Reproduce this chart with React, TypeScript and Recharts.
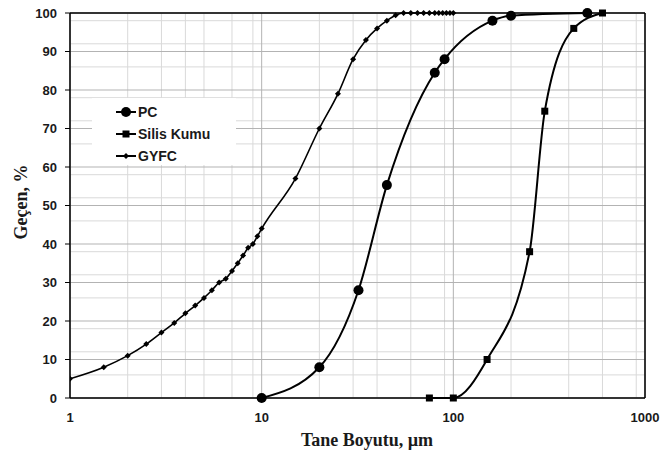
import React from 'react';
import {
  LineChart,
  Line,
  XAxis,
  YAxis,
  CartesianGrid,
  ReferenceLine,
  Legend,
} from 'recharts';

// Tane boyutu (µm) ve geçen yüzdesi
const pcSize = [10, 20, 32, 45, 80, 90, 160, 200, 500];
const pcPass = [0, 8, 28, 55.3, 84.5, 88, 98, 99.3, 100];

const silisSize = [75, 100, 150, 250, 300, 425, 600];
const silisPass = [0, 0, 10, 38, 74.5, 96, 100];

const gyfcSize = [
  1, 1.5, 2, 2.5, 3, 3.5, 4, 4.5, 5, 5.5, 6, 6.5, 7, 7.5, 8, 8.5, 9, 9.5, 10,
  15, 20, 25, 30, 35, 40, 45, 50, 55, 60, 65, 70, 75, 80, 84, 88, 92, 96, 100,
];
const gyfcPass = [
  5, 8, 11, 14, 17, 19.5, 22, 24, 26, 28, 30, 31, 33, 35, 37, 39, 40, 42, 44,
  57, 70, 79, 88, 93, 96, 98, 99.4, 100, 100, 100, 100, 100, 100, 100, 100, 100, 100, 100,
];

const xTicks = [1, 10, 100, 1000];
const yTicks = [0, 10, 20, 30, 40, 50, 60, 70, 80, 90, 100];
const xMinor = [2, 3, 4, 5, 6, 7, 8, 9, 20, 30, 40, 50, 60, 70, 80, 90, 200, 300, 400, 500, 600, 700, 800, 900];
const yMinor = [
  2, 4, 6, 8, 12, 14, 16, 18, 22, 24, 26, 28, 32, 34, 36, 38, 42, 44, 46, 48,
  52, 54, 56, 58, 62, 64, 66, 68, 72, 74, 76, 78, 82, 84, 86, 88, 92, 94, 96, 98,
];

const toPoints = (xs: number[], ys: number[]) => xs.map((x, i) => ({ x, y: ys[i] }));
const pcData = toPoints(pcSize, pcPass);
const silisData = toPoints(silisSize, silisPass);
const gyfcData = toPoints(gyfcSize, gyfcPass);

const tickFont = { fontFamily: 'Arial, "Liberation Sans", sans-serif', fontSize: 13, fontWeight: 700, fill: '#1a1a1a' };
const titleFont = { fontFamily: '"Times New Roman", "Liberation Serif", serif', fontSize: 18, fontWeight: 700, fill: '#1a1a1a' };

const CircleDot = (props: any) => {
  const { cx, cy, index } = props;
  if (cx == null || cy == null) return null;
  return <circle key={`c${index}`} cx={cx} cy={cy} r={5} fill="#000" />;
};

const SquareDot = (props: any) => {
  const { cx, cy, index } = props;
  if (cx == null || cy == null) return null;
  return <rect key={`s${index}`} x={cx - 3.5} y={cy - 3.5} width={7} height={7} fill="#000" />;
};

const DiamondDot = (props: any) => {
  const { cx, cy, index } = props;
  if (cx == null || cy == null) return null;
  return <path key={`d${index}`} d={`M${cx},${cy - 3}L${cx + 3},${cy}L${cx},${cy + 3}L${cx - 3},${cy}Z`} fill="#000" />;
};

const legendItems = [
  { name: 'PC', marker: 'circle' },
  { name: 'Silis Kumu', marker: 'square' },
  { name: 'GYFC', marker: 'diamond' },
];

const LegendBox = () => (
  <div style={{ background: '#fff', width: 144, height: 67, paddingTop: 3, boxSizing: 'border-box' }}>
    {legendItems.map((item) => (
      <div key={item.name} style={{ display: 'flex', alignItems: 'center', height: 22 }}>
        <svg width={45} height={14} style={{ flex: 'none' }}>
          <line x1={24} y1={7} x2={44} y2={7} stroke="#000" strokeWidth={2} />
          {item.marker === 'circle' && <circle cx={34} cy={7} r={5} fill="#000" />}
          {item.marker === 'square' && <rect x={30.5} y={3.5} width={7} height={7} fill="#000" />}
          {item.marker === 'diamond' && <path d="M34,4L37,7L34,10L31,7Z" fill="#000" />}
        </svg>
        <span style={{ fontFamily: 'Arial, "Liberation Sans", sans-serif', fontSize: 14, fontWeight: 700, color: '#1a1a1a', marginLeft: 1 }}>
          {item.name}
        </span>
      </div>
    ))}
  </div>
);

export default function App() {
  return (
    <div style={{ position: 'absolute', left: 0, top: 0, background: '#fff' }}>
      <LineChart width={665} height={459} margin={{ top: 13, right: 20, left: 0, bottom: 0 }}>
        {/* minor grid drawn from hidden axes */}
        <CartesianGrid stroke="#d9d9d9" xAxisId="minor" yAxisId="minor" />
        <CartesianGrid stroke="#b3b3b3" />
        <XAxis
          xAxisId="minor"
          dataKey="x"
          type="number"
          scale="log"
          domain={[1, 1000]}
          allowDataOverflow
          ticks={xMinor}
          hide
        />
        <YAxis yAxisId="minor" type="number" domain={[0, 100]} ticks={yMinor} allowDataOverflow hide />
        <XAxis
          dataKey="x"
          type="number"
          scale="log"
          domain={[1, 1000]}
          allowDataOverflow
          ticks={xTicks}
          height={61}
          axisLine={{ stroke: '#000', strokeWidth: 1.5 }}
          tickLine={false}
          tickMargin={9}
          tick={tickFont}
          label={{
            content: () => (
              <text x={367} y={446} textAnchor="middle" style={titleFont}>
                Tane Boyutu, µm
              </text>
            ),
          }}
        />
        <YAxis
          type="number"
          domain={[0, 100]}
          ticks={yTicks}
          width={70}
          axisLine={{ stroke: '#000', strokeWidth: 1.5 }}
          tickLine={{ stroke: '#000' }}
          tickSize={5}
          tickMargin={8}
          tick={tickFont}
          label={{
            content: () => (
              <text x={27} y={202} transform="rotate(-90 27 202)" textAnchor="middle" style={titleFont}>
                Geçen, %
              </text>
            ),
          }}
        />
        <ReferenceLine y={100} stroke="#000" strokeWidth={1.5} />
        <ReferenceLine x={1000} stroke="#000" strokeWidth={1.5} />
        <Legend
          layout="vertical"
          align="center"
          verticalAlign="middle"
          content={() => <LegendBox />}
          wrapperStyle={{ left: 92, top: 98, width: 144, height: 67 }}
        />
        <Line
          data={pcData}
          dataKey="y"
          name="PC"
          type="monotone"
          stroke="#000"
          strokeWidth={2}
          dot={CircleDot}
          activeDot={false}
          isAnimationActive={false}
        />
        <Line
          data={silisData}
          dataKey="y"
          name="Silis Kumu"
          type="monotone"
          stroke="#000"
          strokeWidth={2}
          dot={SquareDot}
          activeDot={false}
          isAnimationActive={false}
        />
        <Line
          data={gyfcData}
          dataKey="y"
          name="GYFC"
          type="monotone"
          stroke="#000"
          strokeWidth={1.6}
          dot={DiamondDot}
          activeDot={false}
          isAnimationActive={false}
        />
      </LineChart>
    </div>
  );
}
